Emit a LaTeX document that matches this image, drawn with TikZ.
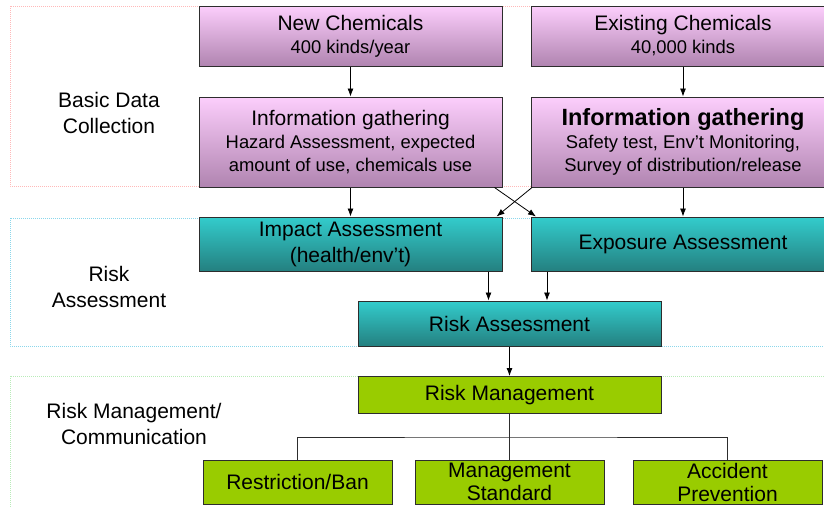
\documentclass[tikz,border=0pt]{standalone}
\usepackage{fontspec}
\setmainfont{Liberation Sans}
\usetikzlibrary{arrows.meta}

\definecolor{pinktop}{RGB}{252,206,252}
\definecolor{pinkbot}{RGB}{176,132,176}
\definecolor{tealtop}{RGB}{51,204,204}
\definecolor{tealbot}{RGB}{36,128,128}
\definecolor{mgmtgreen}{RGB}{153,204,0}
\definecolor{boxline}{RGB}{45,45,45}
\definecolor{framepink}{RGB}{255,185,185}
\definecolor{framecyan}{RGB}{140,215,235}
\definecolor{framegreen}{RGB}{185,235,185}

\newcommand{\subtxt}{\fontsize{18.4}{22}\selectfont}

\begin{document}
\begin{tikzpicture}[x=1pt, y=-1pt,
	box/.style={draw=boxline, line width=1pt, inner sep=0pt, align=center, font=\fontsize{21}{23}\selectfont},
	chem/.style={box, top color=pinktop, bottom color=pinkbot, minimum width=303pt},
	assess/.style={box, top color=tealtop, bottom color=tealbot, minimum width=303pt, font=\fontsize{21}{26}\selectfont},
	manage/.style={box, fill=mgmtgreen},
	frame/.style={line width=0.8pt, dash pattern=on 0.8pt off 1.2pt},
	lbl/.style={align=center, font=\fontsize{21}{26}\selectfont},
	arr/.style={-{Latex[length=8pt,width=6pt]}, line width=0.8pt},
	treeline/.style={draw=boxline, line width=0.8pt}
]
\useasboundingbox (0,0) rectangle (824,506);
\clip (0,0) rectangle (824,506);

% section frames
\draw[frame, framepink] (10,6) rectangle (900,186);
\draw[frame, framecyan] (10,218) rectangle (900,346);
\draw[frame, framegreen] (10,376) rectangle (900,520);

\node[lbl] (basiclbl) at (109,113) {Basic Data\\Collection};
\node[lbl] (risklbl) at (109,287) {Risk\\Assessment};
\node[lbl] (mgmtlbl) at (134,424) {Risk Management/\\Communication};

% data collection
\node[chem, minimum height=60pt] (newchem) at (350.5,36) {New Chemicals\\{\subtxt 400 kinds/year}};
\node[chem, minimum height=60pt] (oldchem) at (683,36) {Existing Chemicals\\{\subtxt 40,000 kinds}};
\node[chem, minimum height=90pt] (newinfo) at (350.5,142) {Information gathering\\{\subtxt Hazard Assessment, expected}\\{\subtxt amount of use, chemicals use}};
\node[chem, minimum height=90pt] (oldinfo) at (683,142) {{\fontsize{23.5}{25}\selectfont\bfseries Information gathering}\\{\subtxt Safety test, Env’t Monitoring,}\\{\subtxt Survey of distribution/release}};

% assessment
\node[assess, minimum height=54pt] (impact) at (350.5,244) {Impact Assessment\\(health/env’t)};
\node[assess, minimum height=54pt] (exposure) at (683,244) {Exposure Assessment};
\node[assess, minimum height=45pt] (riskass) at (509.5,323.5) {Risk Assessment};

% management
\node[manage, minimum width=303pt, minimum height=37pt] (riskman) at (509.5,395) {Risk Management};
\node[manage, minimum width=189pt, minimum height=44pt] (ban) at (297.5,482) {Restriction/Ban};
\node[manage, minimum width=189pt, minimum height=44pt] (standard) at (509.5,482) {Management\\Standard};
\node[manage, minimum width=189pt, minimum height=44pt] (accident) at (727.5,482) {Accident\\Prevention};

\draw[arr] (newchem) -- (newinfo);
\draw[arr] (oldchem) -- (oldinfo);
\draw[arr] (newinfo) -- (impact);
\draw[arr] (oldinfo) -- (exposure);
\draw[arr] ([xshift=-8pt]newinfo.south east) -- ([xshift=5pt]exposure.north west);
\draw[arr] ([xshift=1pt]oldinfo.south west) -- ([xshift=-6pt]impact.north east);

\draw[arr] ([xshift=-14pt]impact.south east) -- ([xshift=-14pt]impact.south east |- riskass.north);
\draw[arr] ([xshift=16pt]exposure.south west) -- ([xshift=16pt]exposure.south west |- riskass.north);
\draw[arr] (riskass) -- (riskman);

\coordinate (fork) at (509.5,437);
\draw[treeline] (riskman) -- (standard);
\draw[treeline] (ban.north) |- (fork) -| (accident.north);

\end{tikzpicture}
\end{document}
